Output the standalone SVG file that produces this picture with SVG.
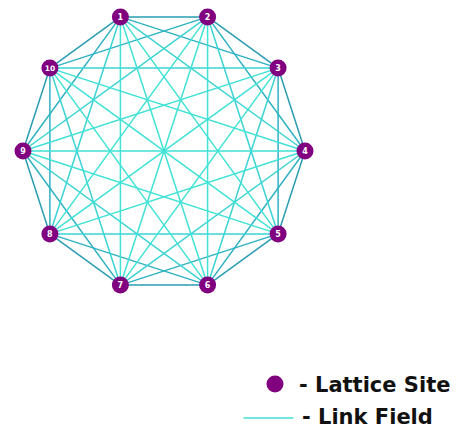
<svg xmlns="http://www.w3.org/2000/svg" width="465" height="430" viewBox="0 0 465 430">
<style>
line{stroke-width:1.5;stroke-linecap:round}
.k1{stroke:#2a9db2}
.k2{stroke:#2eb2c2}
.k3{stroke:#3bd3d3}
.k4{stroke:#40e2d6}
.k5{stroke:#40e2d6}
.site{fill:#800080}
.lbl{fill:#fff;font-family:"DejaVu Sans",sans-serif;font-weight:bold;font-size:8px;text-anchor:middle}
.leg{fill:#111;font-family:"DejaVu Sans",sans-serif;font-weight:bold;font-size:21px}
</style>
<rect width="465" height="430" fill="#fff"/>
<g id="connectors">
<line class="k1" x1="120.4" y1="16.9" x2="207.6" y2="16.9"/>
<line class="k1" x1="207.6" y1="16.9" x2="278.1" y2="68.1"/>
<line class="k1" x1="278.1" y1="68.1" x2="305" y2="151"/>
<line class="k1" x1="305" y1="151" x2="278.1" y2="233.9"/>
<line class="k1" x1="278.1" y1="233.9" x2="207.6" y2="285.1"/>
<line class="k1" x1="207.6" y1="285.1" x2="120.4" y2="285.1"/>
<line class="k1" x1="120.4" y1="285.1" x2="49.9" y2="233.9"/>
<line class="k1" x1="49.9" y1="233.9" x2="23" y2="151"/>
<line class="k1" x1="23" y1="151" x2="49.9" y2="68.1"/>
<line class="k1" x1="49.9" y1="68.1" x2="120.4" y2="16.9"/>
<line class="k2" x1="120.4" y1="16.9" x2="278.1" y2="68.1"/>
<line class="k2" x1="207.6" y1="16.9" x2="305" y2="151"/>
<line class="k2" x1="278.1" y1="68.1" x2="278.1" y2="233.9"/>
<line class="k2" x1="305" y1="151" x2="207.6" y2="285.1"/>
<line class="k2" x1="278.1" y1="233.9" x2="120.4" y2="285.1"/>
<line class="k2" x1="207.6" y1="285.1" x2="49.9" y2="233.9"/>
<line class="k2" x1="120.4" y1="285.1" x2="23" y2="151"/>
<line class="k2" x1="49.9" y1="233.9" x2="49.9" y2="68.1"/>
<line class="k2" x1="23" y1="151" x2="120.4" y2="16.9"/>
<line class="k2" x1="49.9" y1="68.1" x2="207.6" y2="16.9"/>
<line class="k3" x1="120.4" y1="16.9" x2="305" y2="151"/>
<line class="k3" x1="207.6" y1="16.9" x2="278.1" y2="233.9"/>
<line class="k3" x1="278.1" y1="68.1" x2="207.6" y2="285.1"/>
<line class="k3" x1="305" y1="151" x2="120.4" y2="285.1"/>
<line class="k3" x1="278.1" y1="233.9" x2="49.9" y2="233.9"/>
<line class="k3" x1="207.6" y1="285.1" x2="23" y2="151"/>
<line class="k3" x1="120.4" y1="285.1" x2="49.9" y2="68.1"/>
<line class="k3" x1="49.9" y1="233.9" x2="120.4" y2="16.9"/>
<line class="k3" x1="23" y1="151" x2="207.6" y2="16.9"/>
<line class="k3" x1="49.9" y1="68.1" x2="278.1" y2="68.1"/>
<line class="k4" x1="120.4" y1="16.9" x2="278.1" y2="233.9"/>
<line class="k4" x1="207.6" y1="16.9" x2="207.6" y2="285.1"/>
<line class="k4" x1="278.1" y1="68.1" x2="120.4" y2="285.1"/>
<line class="k4" x1="305" y1="151" x2="49.9" y2="233.9"/>
<line class="k4" x1="278.1" y1="233.9" x2="23" y2="151"/>
<line class="k4" x1="207.6" y1="285.1" x2="49.9" y2="68.1"/>
<line class="k4" x1="120.4" y1="285.1" x2="120.4" y2="16.9"/>
<line class="k4" x1="49.9" y1="233.9" x2="207.6" y2="16.9"/>
<line class="k4" x1="23" y1="151" x2="278.1" y2="68.1"/>
<line class="k4" x1="49.9" y1="68.1" x2="305" y2="151"/>
<line class="k5" x1="120.4" y1="16.9" x2="207.6" y2="285.1"/>
<line class="k5" x1="207.6" y1="16.9" x2="120.4" y2="285.1"/>
<line class="k5" x1="278.1" y1="68.1" x2="49.9" y2="233.9"/>
<line class="k5" x1="305" y1="151" x2="23" y2="151"/>
<line class="k5" x1="278.1" y1="233.9" x2="49.9" y2="68.1"/>
</g>
<g id="n1"><circle class="site" cx="120.4" cy="16.9" r="8.5"/><text class="lbl" x="120.4" y="19.8">1</text></g>
<g id="n2"><circle class="site" cx="207.6" cy="16.9" r="8.5"/><text class="lbl" x="207.6" y="19.8">2</text></g>
<g id="n3"><circle class="site" cx="278.1" cy="68.1" r="8.5"/><text class="lbl" x="278.1" y="71">3</text></g>
<g id="n4"><circle class="site" cx="305" cy="151" r="8.5"/><text class="lbl" x="305" y="153.9">4</text></g>
<g id="n5"><circle class="site" cx="278.1" cy="233.9" r="8.5"/><text class="lbl" x="278.1" y="236.8">5</text></g>
<g id="n6"><circle class="site" cx="207.6" cy="285.1" r="8.5"/><text class="lbl" x="207.6" y="288">6</text></g>
<g id="n7"><circle class="site" cx="120.4" cy="285.1" r="8.5"/><text class="lbl" x="120.4" y="288">7</text></g>
<g id="n8"><circle class="site" cx="49.9" cy="233.9" r="8.5"/><text class="lbl" x="49.9" y="236.8">8</text></g>
<g id="n9"><circle class="site" cx="23" cy="151" r="8.5"/><text class="lbl" x="23" y="153.9">9</text></g>
<g id="n10"><circle class="site" cx="49.9" cy="68.1" r="8.5"/><text class="lbl" x="49.9" y="71" style="font-size:7.5px">10</text></g>
<g id="legend">
<circle class="site" cx="275" cy="384" r="8.5"/>
<text class="leg" x="299" y="392">- Lattice Site</text>
<line x1="244" y1="418" x2="293" y2="418" stroke="#40e2d6" stroke-width="2"/>
<text class="leg" x="302" y="424">- Link Field</text>
</g>
</svg>
